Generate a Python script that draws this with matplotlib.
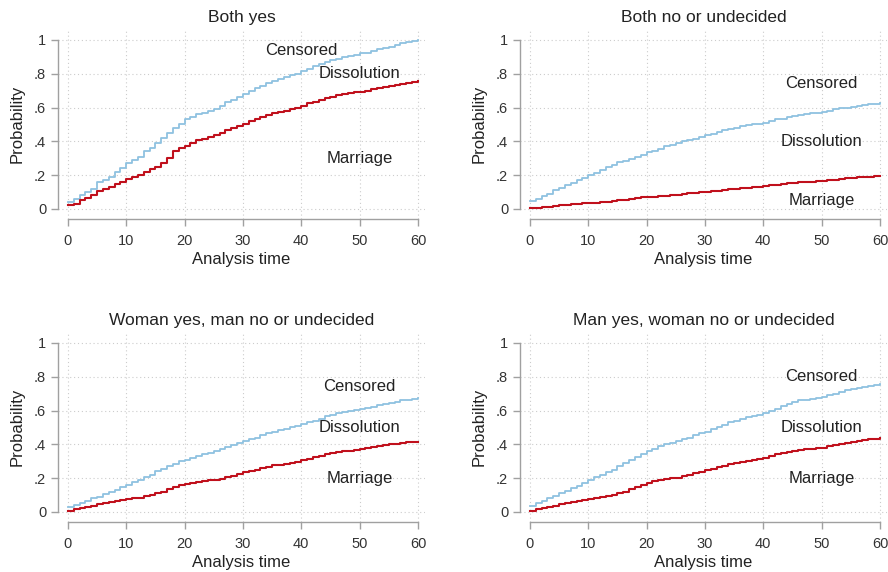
import matplotlib
matplotlib.use("Agg")
import matplotlib.pyplot as plt
import numpy as np

plt.rcParams['font.family'] = ['Liberation Sans', 'DejaVu Sans']

# analysis time (months)
months = list(range(61))

titles = ["Both yes", "Both no or undecided",
          "Woman yes, man no or undecided", "Man yes, woman no or undecided"]

# cumulative probability, top curve (boundary Censored / Dissolution)
censored_both_yes = [0.04, 0.06, 0.08, 0.10, 0.12, 0.16, 0.17, 0.19, 0.22, 0.24, 0.27, 0.29, 0.31, 0.34, 0.36,
                     0.39, 0.42, 0.45, 0.48, 0.50, 0.53, 0.545, 0.56, 0.57, 0.58, 0.59, 0.61, 0.63, 0.645, 0.66,
                     0.68, 0.70, 0.715, 0.73, 0.745, 0.755, 0.77, 0.78, 0.79, 0.80, 0.815, 0.83, 0.845, 0.855, 0.87,
                     0.88, 0.89, 0.90, 0.905, 0.91, 0.92, 0.925, 0.935, 0.945, 0.955, 0.96, 0.97, 0.98, 0.99, 0.995, 1.0]
censored_both_no = [0.045, 0.06, 0.075, 0.09, 0.11, 0.125, 0.14, 0.155, 0.17, 0.185, 0.20, 0.215, 0.23, 0.245, 0.26,
                    0.275, 0.285, 0.295, 0.31, 0.32, 0.335, 0.345, 0.355, 0.37, 0.38, 0.39, 0.40, 0.41, 0.415, 0.425,
                    0.435, 0.445, 0.455, 0.465, 0.475, 0.48, 0.49, 0.495, 0.50, 0.505, 0.51, 0.52, 0.53, 0.535, 0.545,
                    0.55, 0.555, 0.56, 0.565, 0.57, 0.575, 0.58, 0.59, 0.595, 0.60, 0.605, 0.61, 0.615, 0.62, 0.622, 0.625]
censored_woman_yes = [0.03, 0.04, 0.05, 0.065, 0.08, 0.09, 0.105, 0.12, 0.13, 0.145, 0.16, 0.175, 0.19, 0.205, 0.22,
                      0.24, 0.255, 0.27, 0.285, 0.30, 0.31, 0.32, 0.33, 0.34, 0.35, 0.36, 0.37, 0.385, 0.395, 0.41,
                      0.42, 0.43, 0.44, 0.455, 0.465, 0.475, 0.485, 0.49, 0.50, 0.51, 0.52, 0.53, 0.54, 0.55, 0.565,
                      0.575, 0.585, 0.59, 0.60, 0.605, 0.61, 0.615, 0.62, 0.63, 0.64, 0.645, 0.65, 0.66, 0.665, 0.67, 0.675]
censored_man_yes = [0.035, 0.05, 0.065, 0.08, 0.095, 0.11, 0.125, 0.14, 0.155, 0.17, 0.19, 0.205, 0.22, 0.235, 0.25,
                    0.27, 0.29, 0.31, 0.325, 0.34, 0.36, 0.375, 0.39, 0.40, 0.41, 0.42, 0.43, 0.44, 0.455, 0.465,
                    0.475, 0.49, 0.50, 0.515, 0.53, 0.54, 0.55, 0.56, 0.565, 0.575, 0.585, 0.60, 0.61, 0.625, 0.64,
                    0.65, 0.66, 0.665, 0.67, 0.675, 0.68, 0.69, 0.70, 0.71, 0.72, 0.725, 0.735, 0.74, 0.745, 0.75, 0.755]

# cumulative probability, lower curve (boundary Dissolution / Marriage)
dissol_both_yes = [0.02, 0.03, 0.05, 0.065, 0.085, 0.105, 0.115, 0.13, 0.145, 0.16, 0.175, 0.19, 0.20, 0.22, 0.235,
                   0.25, 0.27, 0.30, 0.34, 0.36, 0.375, 0.39, 0.405, 0.415, 0.425, 0.435, 0.45, 0.465, 0.48, 0.49,
                   0.505, 0.52, 0.53, 0.545, 0.555, 0.565, 0.575, 0.58, 0.59, 0.60, 0.61, 0.625, 0.635, 0.645, 0.655,
                   0.665, 0.675, 0.68, 0.685, 0.69, 0.69, 0.70, 0.71, 0.715, 0.72, 0.73, 0.735, 0.74, 0.745, 0.75, 0.755]
dissol_both_no = [0.003, 0.006, 0.01, 0.013, 0.016, 0.02, 0.023, 0.026, 0.029, 0.032, 0.035, 0.037, 0.04, 0.043, 0.047,
                  0.05, 0.055, 0.06, 0.065, 0.068, 0.07, 0.073, 0.076, 0.079, 0.082, 0.085, 0.088, 0.091, 0.094, 0.097,
                  0.10, 0.104, 0.108, 0.112, 0.116, 0.12, 0.123, 0.126, 0.129, 0.132, 0.135, 0.139, 0.143, 0.147, 0.151,
                  0.155, 0.158, 0.16, 0.162, 0.164, 0.165, 0.169, 0.173, 0.177, 0.181, 0.185, 0.187, 0.189, 0.191, 0.193, 0.195]
dissol_woman_yes = [0.008, 0.015, 0.022, 0.03, 0.037, 0.045, 0.05, 0.056, 0.062, 0.068, 0.075, 0.08, 0.085, 0.092, 0.10,
                    0.11, 0.12, 0.135, 0.15, 0.16, 0.165, 0.172, 0.178, 0.183, 0.187, 0.19, 0.197, 0.205, 0.215, 0.225,
                    0.235, 0.243, 0.25, 0.258, 0.266, 0.275, 0.28, 0.285, 0.29, 0.297, 0.305, 0.315, 0.325, 0.333, 0.342,
                    0.35, 0.355, 0.36, 0.363, 0.366, 0.37, 0.378, 0.385, 0.39, 0.395, 0.40, 0.404, 0.408, 0.412, 0.414, 0.415]
dissol_man_yes = [0.008, 0.015, 0.022, 0.03, 0.037, 0.045, 0.052, 0.058, 0.064, 0.07, 0.077, 0.082, 0.087, 0.093, 0.10,
                  0.11, 0.12, 0.135, 0.15, 0.162, 0.17, 0.18, 0.19, 0.195, 0.198, 0.20, 0.21, 0.22, 0.23, 0.237,
                  0.245, 0.255, 0.265, 0.273, 0.282, 0.29, 0.295, 0.30, 0.305, 0.312, 0.32, 0.33, 0.34, 0.348, 0.355,
                  0.36, 0.367, 0.372, 0.375, 0.378, 0.38, 0.388, 0.395, 0.402, 0.408, 0.415, 0.42, 0.425, 0.43, 0.433, 0.435]

censored = [censored_both_yes, censored_both_no, censored_woman_yes, censored_man_yes]
dissolution = [dissol_both_yes, dissol_both_no, dissol_woman_yes, dissol_man_yes]

# label positions (x, y) per panel: Censored, Dissolution, Marriage
label_pos = [
    [(40, 0.94), (50, 0.80), (50, 0.30)],
    [(50, 0.745), (50, 0.40), (50, 0.05)],
    [(50, 0.745), (50, 0.50), (50, 0.195)],
    [(50, 0.80), (50, 0.50), (50, 0.195)],
]
label_names = ["Censored", "Dissolution", "Marriage"]

W, H = 888, 572
fig = plt.figure(figsize=(W / 100, H / 100), dpi=100)

# axes boxes in pixels: left, right, top, bottom
boxes = [(58, 425, 29, 219), (520, 887, 29, 219),
         (58, 425, 332, 522), (520, 887, 332, 522)]

blue = '#8fc2e0'
red = '#c0101c'
axis_col = '#a0a0a0'
txt_col = '#222222'

for i, (l, r, t, b) in enumerate(boxes):
    ax = fig.add_axes([l / W, 1 - b / H, (r - l) / W, (b - t) / H])
    ax.set_xlim(-1.7, 61.2)
    ax.set_ylim(-0.06, 1.065)

    ax.step(months, censored[i], where='post', color=blue, lw=1.3)
    ax.step(months, dissolution[i], where='post', color=red, lw=1.5)

    for name, (x, y) in zip(label_names, label_pos[i]):
        ax.text(x, y, name, ha='center', va='center', fontsize=12, color=txt_col)

    ax.set_xticks([0, 10, 20, 30, 40, 50, 60])
    ax.set_yticks([0, 0.2, 0.4, 0.6, 0.8, 1])
    ax.set_yticklabels(['0', '.2', '.4', '.6', '.8', '1'])
    ax.grid(True, linestyle=(0, (1, 2.5)), color='#cccccc', lw=0.8)
    ax.set_axisbelow(True)

    for s in ['top', 'right']:
        ax.spines[s].set_visible(False)
    ax.spines['left'].set_bounds(0, 1)
    ax.spines['bottom'].set_bounds(0, 60)
    for s in ['left', 'bottom']:
        ax.spines[s].set_color(axis_col)
        ax.spines[s].set_linewidth(1.0)
    ax.tick_params(colors=axis_col, labelcolor='#333333', labelsize=10.5, length=5, width=1.0)
    ax.tick_params(axis='x', pad=6)

    ax.set_xlabel("Analysis time", fontsize=12, color=txt_col, labelpad=3)
    ax.set_ylabel("Probability", fontsize=12, color=txt_col, labelpad=7)
    ax.set_title(titles[i], fontsize=12.5, color=txt_col, pad=5)

fig.savefig('out.png', dpi=100)
